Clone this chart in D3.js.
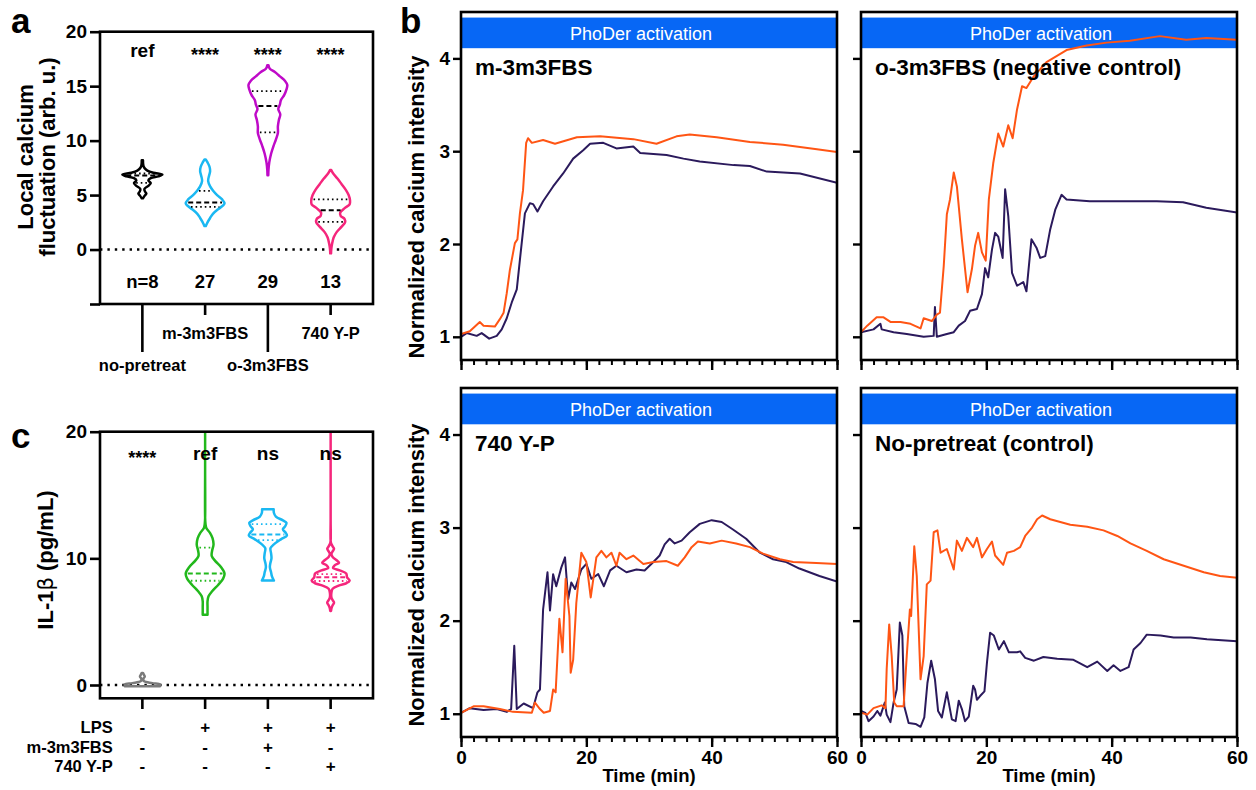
<!DOCTYPE html>
<html>
<head>
<meta charset="utf-8">
<script src="https://cdn.jsdelivr.net/npm/d3@7"></script>
<style>
  body { margin: 0; background: #fff; }
  svg { display: block; font-family: "Liberation Sans", Arial, Helvetica, sans-serif; }
</style>
</head>
<body>
<svg id="fig" width="1256" height="790"></svg>
<script>
// ---------------- Panel a: local calcium fluctuation (violins) ----------------
const groupsA = ["no-pretreat", "m-3m3FBS", "o-3m3FBS", "740 Y-P"];
const sigA = ["ref", "****", "****", "****"];
const countsA = ["n=8", "27", "29", "13"];
const ticksA = [-5, 0, 5, 10, 15, 20];
// violin outlines: [value, relative half-width]
const profileNoPretreat = [[8.2,0.03],[7.7,0.05],[7.45,0.12],[7.25,0.25],[7.05,0.55],[6.87,1.0],[6.72,0.8],[6.55,0.42],[6.35,0.3],[6.1,0.42],[5.85,0.3],[5.55,0.1],[5.3,0.14],[5.15,0.2],[4.95,0.12],[4.7,0.03]];
const profileM3A = [[8.27,0.03],[8.0,0.12],[7.6,0.22],[7.2,0.25],[6.8,0.2],[6.3,0.15],[5.8,0.25],[5.4,0.4],[5.0,0.6],[4.6,0.85],[4.25,0.97],[4.05,0.9],[3.7,0.65],[3.3,0.4],[2.9,0.25],[2.5,0.12],[2.15,0.03]];
const profileO3A = [[16.93,0.03],[16.6,0.1],[16.3,0.35],[15.9,0.6],[15.5,0.85],[15.1,0.97],[14.7,0.93],[14.2,0.82],[13.7,0.65],[13.3,0.6],[12.9,0.52],[12.4,0.62],[11.9,0.55],[11.3,0.5],[10.7,0.5],[10.1,0.4],[9.5,0.28],[8.8,0.16],[8.0,0.07],[7.3,0.03],[6.83,0.02]];
const profileYPA = [[7.3,0.03],[7.0,0.12],[6.5,0.35],[6.0,0.55],[5.5,0.75],[5.0,0.9],[4.5,0.97],[4.15,0.95],[3.8,0.7],[3.4,0.48],[3.1,0.5],[2.8,0.7],[2.5,0.72],[2.1,0.55],[1.6,0.3],[1.1,0.15],[0.5,0.07],[0,0.03],[-0.35,0.02]];
const profilesA = [profileNoPretreat, profileM3A, profileO3A, profileYPA];
// [lower quartile, median, upper quartile]
const quartilesA = [[6.12, 6.8, 6.98], [3.92, 4.32, 5.39], [10.75, 13.17, 14.55], [2.54, 3.61, 4.6]];
const colorsA = ["#000000", "#1ab8f2", "#bf0ac8", "#f5267c"];

// ---------------- Panel c: IL-1β (violins) ----------------
const groupsC = ["ctrl", "LPS", "LPS+m-3m3FBS", "LPS+740 Y-P"];
const sigC = ["****", "ref", "ns", "ns"];
const ticksC = [0, 10, 20];
const profileCtrlC = [[0.95,0.03],[0.8,0.08],[0.66,0.12],[0.5,0.05],[0.3,0.08],[0.15,0.5],[0.05,0.88],[-0.1,0.88]];
const profileLpsC = [[21,0],[17,0],[13.2,0],[12.7,0.02],[12.4,0.06],[12.0,0.25],[11.6,0.37],[11.1,0.42],[10.6,0.35],[10.2,0.33],[9.8,0.5],[9.3,0.8],[8.8,0.97],[8.4,0.9],[7.9,0.65],[7.4,0.35],[7.0,0.17],[6.6,0.12],[6.2,0.12],[5.55,0.12]];
const profileM3C = [[13.87,0.29],[13.6,0.3],[13.3,0.4],[13.0,0.75],[12.8,0.93],[12.5,0.85],[12.3,0.75],[12.0,0.9],[11.8,0.95],[11.5,0.65],[11.1,0.3],[10.8,0.13],[10.4,0.16],[10.0,0.18],[9.6,0.12],[9.3,0.1],[8.9,0.16],[8.6,0.2],[8.25,0.3]];
const profileYPC = [[21,0],[17,0],[13,0],[11.4,0],[11.15,0.03],[10.95,0.1],[10.75,0.17],[10.55,0.1],[10.35,0.04],[10.1,0.1],[9.85,0.3],[9.65,0.42],[9.45,0.2],[9.25,0.12],[9.05,0.45],[8.8,0.78],[8.5,0.82],[8.25,0.95],[8.05,0.8],[7.85,0.4],[7.6,0.1],[7.3,0.04],[6.9,0.04],[6.7,0.1],[6.5,0.17],[6.3,0.1],[6.05,0.04],[5.85,0.02]];
const profilesC = [profileCtrlC, profileLpsC, profileM3C, profileYPC];
const quartilesC = [null, [8.23, 8.81, 10.84], [11.44, 11.89, 12.71], [8.21, 8.5, 8.76]];
const colorsC = ["#7a7a7a", "#22b81c", "#1ab8f2", "#f5267c"];
const treatmentRows = ["LPS", "m-3m3FBS", "740 Y-P"];
const treatmentSigns = [["-", "+", "+", "+"], ["-", "-", "+", "-"], ["-", "-", "-", "+"]];

// ---------------- Panel b: calcium traces, [time (min), normalized intensity] ----------------
const timeTicksMajor = [0, 20, 40, 60];
const intensityTicks = [1, 2, 3, 4];
const m3Orange = [[0,1.03],[1.4,1.06],[3.0,1.16],[3.6,1.12],[5.4,1.11],[6.2,1.19],[6.8,1.26],[7.3,1.47],[7.8,1.72],[8.6,2.01],[9.0,2.05],[9.4,2.33],[9.9,2.58],[10.4,3.09],[10.7,3.14],[11.3,3.09],[13.1,3.12],[15.0,3.08],[18.5,3.15],[22.2,3.16],[27.5,3.13],[31.2,3.08],[34.4,3.16],[36.5,3.18],[40.8,3.15],[46.1,3.10],[51.4,3.07],[56.8,3.02],[60,2.99]];
const m3Navy = [[0,1.0],[0.9,1.04],[2.5,1.01],[3.3,1.04],[4.5,0.98],[5.7,1.01],[6.5,1.08],[7.3,1.20],[8.1,1.37],[8.9,1.51],[9.4,1.83],[10.2,2.33],[11.0,2.44],[11.5,2.43],[12.2,2.35],[13.1,2.46],[14.7,2.62],[16.3,2.76],[17.9,2.92],[19.5,3.01],[20.6,3.08],[22.7,3.09],[24.8,3.03],[27.5,3.05],[28.6,2.98],[32.8,2.96],[35.5,2.92],[38.1,2.89],[43.5,2.85],[46.1,2.84],[48.8,2.78],[54.1,2.76],[60,2.66]];
const o3Orange = [[0,1.05],[1.0,1.12],[2.5,1.21],[3.6,1.21],[4.7,1.16],[6.3,1.16],[7.9,1.14],[9.5,1.09],[10.0,1.20],[11.3,1.17],[12.1,1.24],[12.6,1.26],[13.2,1.76],[13.7,2.32],[14.2,2.48],[14.8,2.77],[15.3,2.62],[16.1,2.05],[17.0,1.48],[17.7,1.73],[18.2,1.98],[18.7,2.12],[19.3,1.91],[19.9,1.82],[20.4,2.48],[21.1,2.87],[21.9,3.19],[22.7,3.05],[23.5,3.28],[24.2,3.14],[24.9,3.45],[25.7,3.70],[26.4,3.68],[27.5,3.80],[29.6,3.96],[32.8,4.09],[36.0,4.14],[39.2,4.17],[42.9,4.19],[47.7,4.24],[51.9,4.20],[55.1,4.22],[60,4.20]];
const o3Navy = [[0,1.05],[2.0,1.08],[3.1,1.14],[3.3,1.08],[5.2,1.05],[7.3,1.03],[10.0,1.0],[11.6,1.01],[11.8,1.32],[12.1,1.0],[13.7,1.03],[14.8,1.05],[15.6,1.12],[16.6,1.17],[17.4,1.28],[18.5,1.30],[19.3,1.46],[19.8,1.74],[20.3,1.64],[20.9,1.94],[21.4,2.12],[21.9,2.08],[22.6,1.85],[23.0,2.59],[23.5,2.30],[24.1,1.69],[24.9,1.55],[25.9,1.59],[26.4,1.49],[27.2,2.05],[28.0,1.96],[28.6,1.85],[29.4,1.87],[30.2,2.16],[31.0,2.37],[32.0,2.53],[32.8,2.48],[36.5,2.46],[41.8,2.46],[47.2,2.46],[51.4,2.45],[55.1,2.39],[60,2.34]];
const ypOrange = [[0,1.01],[2.0,1.08],[3.6,1.08],[6.2,1.05],[8.3,1.02],[11.3,1.01],[11.8,1.12],[12.6,1.05],[13.2,1.01],[14.2,1.03],[14.7,1.26],[15.1,1.23],[15.7,2.02],[16.2,1.66],[16.7,2.45],[17.3,2.05],[17.5,1.44],[17.9,1.58],[18.4,2.19],[19.2,2.73],[20.0,2.63],[20.7,2.25],[21.6,2.68],[22.4,2.75],[23.2,2.68],[24.0,2.73],[24.8,2.59],[25.3,2.73],[26.4,2.66],[27.5,2.70],[29.1,2.61],[30.7,2.63],[32.8,2.64],[34.6,2.59],[35.7,2.68],[36.8,2.79],[37.8,2.85],[39.7,2.83],[41.6,2.86],[43.9,2.83],[46.1,2.79],[48.2,2.72],[50.9,2.66],[53.0,2.63],[56.7,2.62],[60,2.61]];
const ypNavy = [[0,1.01],[1.4,1.06],[3.6,1.04],[5.7,1.05],[7.3,1.02],[8.0,1.05],[8.5,1.73],[8.9,1.05],[10.0,1.11],[11.5,1.06],[12.2,1.23],[12.6,1.26],[13.1,2.12],[13.8,2.52],[14.2,2.11],[14.7,2.50],[15.2,2.37],[16.0,2.57],[16.6,2.68],[17.1,2.23],[17.6,2.41],[18.2,2.34],[19.2,2.55],[20.0,2.61],[20.8,2.45],[21.9,2.50],[22.8,2.37],[23.8,2.54],[24.8,2.59],[26.4,2.52],[28.0,2.55],[29.3,2.54],[30.7,2.63],[31.7,2.70],[32.5,2.82],[33.3,2.88],[34.1,2.83],[35.2,2.86],[36.5,2.95],[38.1,3.04],[40.0,3.08],[41.6,3.06],[43.4,2.98],[45.5,2.88],[47.7,2.73],[49.8,2.66],[51.9,2.63],[54.0,2.56],[57.2,2.48],[60,2.42]];
const ctrlOrange = [[0,1.01],[1.0,0.99],[2.0,1.06],[3.3,1.09],[3.9,1.06],[4.1,1.48],[4.5,1.96],[4.9,1.62],[5.3,1.12],[5.7,1.08],[6.8,1.08],[7.3,1.62],[7.8,2.12],[8.0,2.05],[8.5,2.80],[8.9,2.48],[9.5,1.37],[10.0,1.62],[10.5,2.39],[11.1,2.43],[11.6,2.95],[12.2,2.97],[12.7,2.73],[13.7,2.77],[14.8,2.55],[15.3,2.86],[16.1,2.75],[16.9,2.89],[17.9,2.79],[18.5,2.89],[19.3,2.68],[20.1,2.77],[20.9,2.85],[21.4,2.70],[22.7,2.60],[23.3,2.73],[24.4,2.75],[25.4,2.79],[26.2,2.91],[27.3,3.00],[28.1,3.09],[28.9,3.13],[30.2,3.09],[31.8,3.06],[33.4,3.03],[36.1,3.01],[38.7,2.97],[40.9,2.91],[43.0,2.83],[45.6,2.75],[48.3,2.66],[51.5,2.59],[54.7,2.52],[57.3,2.48],[60,2.46]];
const ctrlNavy = [[0,1.03],[0.7,1.01],[1.2,0.92],[2.0,0.97],[2.6,1.03],[3.1,0.98],[3.8,1.12],[4.1,0.99],[4.7,0.91],[5.2,1.12],[5.7,1.26],[6.2,1.98],[6.6,1.84],[6.9,1.08],[7.6,0.90],[8.7,0.89],[9.5,0.86],[10.1,0.96],[10.6,1.33],[11.2,1.57],[11.8,1.37],[12.3,1.03],[12.9,0.96],[13.7,1.23],[14.5,0.94],[15.1,0.92],[15.6,1.14],[16.1,1.05],[16.6,0.92],[17.2,0.97],[17.9,1.30],[18.2,1.26],[18.5,1.15],[19.0,1.19],[19.7,1.24],[20.1,1.55],[20.6,1.87],[21.2,1.84],[22.0,1.69],[22.8,1.78],[23.6,1.66],[24.9,1.66],[25.4,1.67],[26.2,1.60],[27.6,1.57],[29.1,1.61],[31.3,1.59],[33.9,1.58],[36.1,1.50],[37.7,1.56],[39.3,1.46],[40.3,1.52],[41.4,1.46],[42.7,1.50],[43.5,1.69],[44.6,1.76],[45.6,1.85],[47.8,1.84],[49.9,1.82],[52.6,1.82],[55.2,1.80],[60,1.78]];

const ORANGE = "#ff5514";
const NAVY = "#2b1a5c";
const BLUE = "#0767f5";
const FONT_BOLD = 700;

const svg = d3.select("#fig");

// ---------- shared helpers ----------
function halfWidthAt(profile, v) {
  for (let i = 0; i < profile.length - 1; i++) {
    const a = profile[i], b = profile[i + 1];
    if ((v <= a[0] && v >= b[0])) {
      const t = (a[0] - v) / (a[0] - b[0]);
      return a[1] + t * (b[1] - a[1]);
    }
  }
  return 0;
}

function frame(g, x0, y0, x1, y1) {
  g.append("rect").attr("x", x0).attr("y", y0).attr("width", x1 - x0).attr("height", y1 - y0)
    .attr("fill", "none").attr("stroke", "#000").attr("stroke-width", 2.6);
}

function violinPanel(opt) {
  const g = svg.append("g");
  const x = d3.scalePoint(opt.groups, [opt.left, opt.right]).padding(0.675);
  const y = d3.scaleLinear(opt.domain, [opt.bottom, opt.top]);
  const w = d3.scaleLinear([0, 1], [0, 20]);
  const clipId = "clip-" + opt.id;
  svg.append("clipPath").attr("id", clipId).append("rect")
    .attr("x", opt.left).attr("y", opt.top).attr("width", opt.right - opt.left).attr("height", opt.bottom - opt.top);

  // zero reference line
  g.append("line").attr("x1", opt.left).attr("x2", opt.right).attr("y1", y(0)).attr("y2", y(0))
    .attr("stroke", "#000").attr("stroke-width", 2.4).attr("stroke-dasharray", "2.4,5");

  const plot = g.append("g").attr("clip-path", `url(#${clipId})`);
  opt.groups.forEach((grp, i) => {
    const cx = x(grp);
    const area = d3.area()
      .y(d => y(d[0]))
      .x0(d => cx - w(d[1]))
      .x1(d => cx + w(d[1]))
      .curve(d3.curveCatmullRom.alpha(0.5));
    plot.append("path").attr("d", area(opt.profiles[i]))
      .attr("fill", "none").attr("stroke", opt.colors[i]).attr("stroke-width", 2.5)
      .attr("stroke-linejoin", "round");
    const q = opt.quartiles[i];
    if (q) {
      q.forEach((v, k) => {
        const hw = Math.max(w(halfWidthAt(opt.profiles[i], v)) - 2, 1);
        plot.append("line").attr("x1", cx - hw).attr("x2", cx + hw).attr("y1", y(v)).attr("y2", y(v))
          .attr("stroke", opt.quartileColor || opt.colors[i])
          .attr("stroke-width", k === 1 ? 2 : 1.8)
          .attr("stroke-dasharray", k === 1 ? "5,3" : "1.6,3");
      });
    }
  });

  // y axis
  const ya = g.append("g").attr("transform", `translate(${opt.left},0)`)
    .call(d3.axisLeft(y).tickValues(opt.ticks).tickSize(10).tickPadding(3)
      .tickFormat(d => opt.labelTicks.includes(d) ? d : ""));
  ya.select(".domain").remove();
  ya.selectAll(".tick line").attr("stroke-width", 2.6);
  ya.selectAll(".tick text").attr("font-size", 19).attr("font-weight", FONT_BOLD).attr("fill", "#000")
    .attr("font-family", "Liberation Sans, Arial, sans-serif");

  frame(g, opt.left, opt.top, opt.right, opt.bottom);

  // significance labels
  opt.groups.forEach((grp, i) => {
    const s = opt.sig[i];
    g.append("text").attr("x", x(grp)).attr("y", s.startsWith("*") ? opt.sigY + 4 : opt.sigY)
      .attr("text-anchor", "middle").attr("font-size", s.startsWith("*") ? 18 : 19)
      .attr("font-weight", FONT_BOLD).text(s);
  });
  return { g, x, y };
}

// ---------- panel a ----------
const A = violinPanel({
  id: "a", groups: groupsA, left: 100, right: 373, top: 31.7, bottom: 304, domain: [-5, 20],
  ticks: ticksA, labelTicks: [0, 5, 10, 15, 20], profiles: profilesA, quartiles: quartilesA,
  colors: colorsA, quartileColor: "#000", sig: sigA, sigY: 57
});
groupsA.forEach((grp, i) => {
  A.g.append("text").attr("x", A.x(grp)).attr("y", 287.5).attr("text-anchor", "middle")
    .attr("font-size", 18.5).attr("font-weight", FONT_BOLD).text(countsA[i]);
  const long = i % 2 === 0;
  A.g.append("line").attr("x1", A.x(grp)).attr("x2", A.x(grp)).attr("y1", 304).attr("y2", long ? 352 : 315)
    .attr("stroke", "#000").attr("stroke-width", 2.6);
  A.g.append("text").attr("x", A.x(grp)).attr("y", long ? 371 : 339).attr("text-anchor", "middle")
    .attr("font-size", 16.5).attr("font-weight", FONT_BOLD).text(grp);
});
const titleA = svg.append("text").attr("transform", "translate(0,157) rotate(-90)")
  .attr("text-anchor", "middle").attr("font-size", 22).attr("font-weight", FONT_BOLD);
titleA.append("tspan").attr("x", 0).attr("y", 33).text("Local calcium");
titleA.append("tspan").attr("x", 0).attr("y", 55).text("fluctuation (arb. u.)");

// ---------- panel c ----------
const C = violinPanel({
  id: "c", groups: groupsC, left: 100, right: 373, top: 431.7, bottom: 698.3, domain: [-1.05, 20],
  ticks: ticksC, labelTicks: ticksC, profiles: profilesC, quartiles: quartilesC,
  colors: colorsC, sig: sigC, sigY: 460
});
groupsC.forEach((grp, i) => {
  C.g.append("line").attr("x1", C.x(grp)).attr("x2", C.x(grp)).attr("y1", 698).attr("y2", 709)
    .attr("stroke", "#000").attr("stroke-width", 2.6);
});
treatmentRows.forEach((row, r) => {
  const yy = 733 + r * 19.7;
  C.g.append("text").attr("x", 112.7).attr("y", yy).attr("text-anchor", "end")
    .attr("font-size", 16.5).attr("font-weight", FONT_BOLD).text(row);
  groupsC.forEach((grp, i) => {
    C.g.append("text").attr("x", C.x(grp)).attr("y", yy).attr("text-anchor", "middle")
      .attr("font-size", 17).attr("font-weight", FONT_BOLD).text(treatmentSigns[r][i]);
  });
});
const titleC = svg.append("text").attr("transform", "translate(52.7,560) rotate(-90)")
  .attr("text-anchor", "middle").attr("font-size", 22).attr("font-weight", FONT_BOLD);
titleC.append("tspan").text("IL-1");
titleC.append("tspan").attr("font-weight", 400).attr("font-family", "DejaVu Sans, sans-serif").attr("font-size", 21).text("β");
titleC.append("tspan").text(" (pg/mL)");

// ---------- panel b ----------
function tracePanel(p) {
  const g = svg.append("g");
  const x = d3.scaleLinear([0, 60], [p.left, p.left + 376]);
  const y = d3.scaleLinear([0.75, 4.5], [p.bottom, p.top]);
  const clipId = "clip-" + p.id;
  svg.append("clipPath").attr("id", clipId).append("rect")
    .attr("x", p.left).attr("y", p.top).attr("width", 376).attr("height", p.bottom - p.top);

  // stimulation window bar
  g.append("rect").attr("x", x(0)).attr("width", x(60) - x(0))
    .attr("y", y(4.44)).attr("height", y(4.11) - y(4.44)).attr("fill", BLUE);
  g.append("text").attr("x", (x(0) + x(60)) / 2 - 8).attr("y", y(4.11) - 8)
    .attr("text-anchor", "middle").attr("fill", "#fff").attr("font-size", 18).text("PhoDer activation");

  const line = d3.line().x(d => x(d[0])).y(d => y(d[1]));
  const plot = g.append("g").attr("clip-path", `url(#${clipId})`);
  [[p.navy, NAVY], [p.orange, ORANGE]].forEach(([data, c]) => {
    plot.append("path").attr("d", line(data)).attr("fill", "none").attr("stroke", c)
      .attr("stroke-width", 2).attr("stroke-linejoin", "round");
  });

  g.append("text").attr("x", p.left + 14).attr("y", p.top + 62.5)
    .attr("font-size", 22.5).attr("font-weight", FONT_BOLD).text(p.title);

  // axes
  const ya = g.append("g").attr("transform", `translate(${p.left},0)`)
    .call(d3.axisLeft(y).tickValues(intensityTicks).tickSize(8).tickPadding(3)
      .tickFormat(d => p.yLabels ? d : ""));
  ya.select(".domain").remove();
  ya.selectAll(".tick line").attr("stroke-width", 2.4);
  ya.selectAll(".tick text").attr("font-size", 19).attr("font-weight", FONT_BOLD).attr("fill", "#000")
    .attr("font-family", "Liberation Sans, Arial, sans-serif");

  const xa = g.append("g").attr("transform", `translate(0,${p.bottom})`)
    .call(d3.axisBottom(x).tickValues(d3.range(0, 61, 2)).tickSize(5).tickFormat(""));
  xa.select(".domain").remove();
  xa.selectAll(".tick line").attr("stroke-width", 2);
  const xm = g.append("g").attr("transform", `translate(0,${p.bottom})`)
    .call(d3.axisBottom(x).tickValues(timeTicksMajor).tickSize(10).tickPadding(4)
      .tickFormat(d => p.xLabels ? d : ""));
  xm.select(".domain").remove();
  xm.selectAll(".tick line").attr("stroke-width", 2.4);
  xm.selectAll(".tick text").attr("font-size", 19).attr("font-weight", FONT_BOLD).attr("fill", "#000")
    .attr("font-family", "Liberation Sans, Arial, sans-serif");

  frame(g, p.left, p.top, p.left + 376, p.bottom);

  if (p.xLabels) {
    g.append("text").attr("x", (x(0) + x(60)) / 2).attr("y", 782).attr("text-anchor", "middle")
      .attr("font-size", 18.5).attr("font-weight", FONT_BOLD).text("Time (min)");
  }
  if (p.yLabels) {
    g.append("text").attr("transform", `translate(424,${p.titleY}) rotate(-90)`)
      .attr("text-anchor", "middle").attr("font-size", 22).attr("font-weight", FONT_BOLD)
      .text("Normalized calcium intensity");
  }
}

tracePanel({ id: "b1", left: 461, top: 12, bottom: 360, title: "m-3m3FBS", orange: m3Orange, navy: m3Navy, yLabels: true, xLabels: false, titleY: 207 });
tracePanel({ id: "b2", left: 861, top: 12, bottom: 360, title: "o-3m3FBS (negative control)", orange: o3Orange, navy: o3Navy, yLabels: false, xLabels: false });
tracePanel({ id: "b3", left: 461, top: 388, bottom: 737, title: "740 Y-P", orange: ypOrange, navy: ypNavy, yLabels: true, xLabels: true, titleY: 575 });
tracePanel({ id: "b4", left: 861, top: 388, bottom: 737, title: "No-pretreat (control)", orange: ctrlOrange, navy: ctrlNavy, yLabels: false, xLabels: true });

// ---------- panel letters ----------
[["a", 11, 32.5], ["b", 400, 32.5], ["c", 11, 448]].forEach(([t, px, py]) => {
  svg.append("text").attr("x", px).attr("y", py).attr("font-size", 35).attr("font-weight", FONT_BOLD).text(t);
});
</script>
</body>
</html>
